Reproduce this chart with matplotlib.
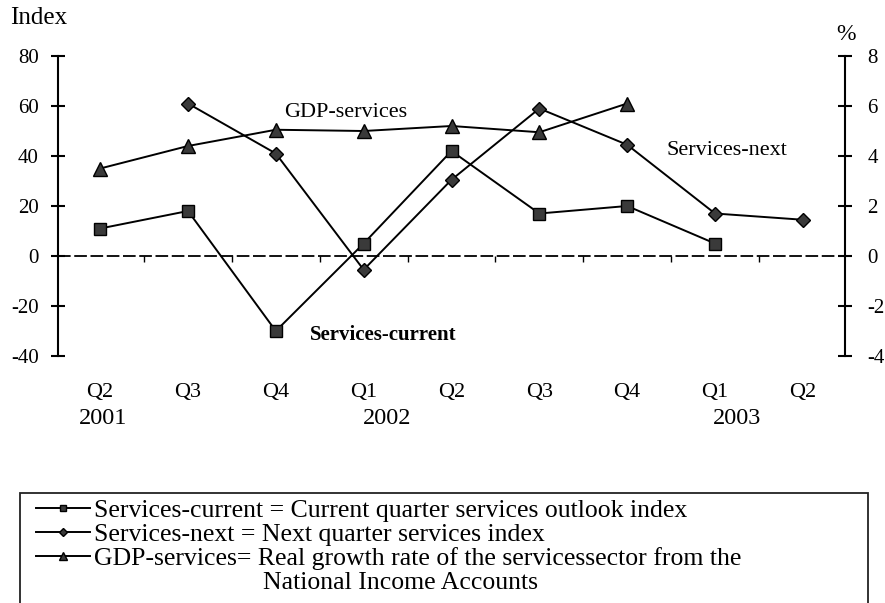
import matplotlib
matplotlib.use("Agg")
import matplotlib.pyplot as plt
import matplotlib.transforms as mtransforms
from matplotlib.lines import Line2D
from matplotlib.patches import Rectangle
import numpy as np

plt.rcParams['font.family'] = ['Liberation Serif', 'DejaVu Serif']
plt.rcParams['axes.unicode_minus'] = False

# quarters Q2 2001 .. Q2 2003
quarters = ['Q2', 'Q3', 'Q4', 'Q1', 'Q2', 'Q3', 'Q4', 'Q1', 'Q2']
years = ['2001', '2002', '2003']
year_pos = [0.03, 3.27, 7.25]

# index values (left axis), None = no observation
services_current = [11, 18, -30, 5, 42, 17, 20, 5, None]
services_next = [None, 61, 41, -5.5, 30.5, 59, 44.5, 17, 14.5]
# % growth (right axis)
gdp_services = [3.5, 4.4, 5.05, 5.0, 5.2, 4.95, 6.1, None, None]

x = np.arange(len(quarters))


def to_arr(vals):
    return np.array([np.nan if v is None else v for v in vals], dtype=float)


fig = plt.figure(figsize=(8.85, 6.03), dpi=100)
ax = fig.add_axes([58 / 885, 1 - 356 / 603, (845 - 58) / 885, 300 / 603])
ax2 = ax.twinx()

mk = dict(color='black', lw=1.4, markeredgecolor='black', markerfacecolor='#3a3a3a')
ax.plot(x, to_arr(services_current), marker='s', ms=8.5, **mk)
ax.plot(x, to_arr(services_next), marker='D', ms=7, **mk)
ax2.plot(x, to_arr(gdp_services), marker='^', ms=10, **mk)

ax.set_ylim(-40, 80)
ax2.set_ylim(-4, 8)
ax.set_xlim(-0.48, 8.48)
ax.set_yticks(np.arange(-40, 81, 20))
ax2.set_yticks(np.arange(-4, 9, 2))

# x axis drawn as dashed line at zero with small ticks between quarters
for a in (ax, ax2):
    a.spines['top'].set_visible(False)
    a.spines['bottom'].set_visible(False)
    a.spines['left'].set_visible(a is ax)
    a.spines['right'].set_visible(a is ax2)
ax.spines['left'].set_linewidth(1.5)
ax2.spines['right'].set_linewidth(1.5)
ax.axhline(0, color='black', lw=1.3, ls=(0, (7, 2)))
ax.set_xticks([])
minor = np.arange(0.5, 8, 1)
ax.plot(minor, np.zeros_like(minor), ls='none', marker=3, ms=4, color='black', mew=1)

ax.tick_params(axis='y', direction='inout', length=10, width=1.5, labelsize=15, pad=9)
ax2.tick_params(axis='y', direction='inout', length=10, width=1.5, labelsize=15, pad=11)

sec = ax.secondary_xaxis(-0.085)
sec.set_xticks(x, quarters)
sec.spines['bottom'].set_visible(False)
sec.tick_params(length=0, labelsize=16, pad=1)

trans = mtransforms.blended_transform_factory(ax.transData, ax.transAxes)
for yr, xp in zip(years, year_pos):
    ax.text(xp, -0.207, yr, transform=trans, ha='center', va='center', fontsize=17.5)

ax.text(2.10, 57.5, 'GDP-services', fontsize=16, va='center', ha='left')
ax.text(2.39, -31.5, 'Services-current', fontsize=15, fontweight='bold',
        va='center', ha='left')
ax.text(6.45, 42.2, 'Services-next', fontsize=16, va='center', ha='left')

fig.text(10 / 885, 1 - 18 / 603, 'Index', fontsize=18, va='center', ha='left')
fig.text(836 / 885, 1 - 34 / 603, '%', fontsize=17, va='center', ha='left')

# legend box (runs off the bottom of the image, as in the source)
fig.patches.append(Rectangle((20 / 885, -0.05), 848 / 885, 0.05 + 110 / 603,
                             transform=fig.transFigure, fill=False,
                             edgecolor='#222222', lw=1.3))

h1 = Line2D([], [], color='black', lw=1.4, marker='s', ms=4.5, markerfacecolor='#3a3a3a')
h2 = Line2D([], [], color='black', lw=1.4, marker='D', ms=4, markerfacecolor='#3a3a3a')
h3 = Line2D([], [], color='black', lw=1.4, marker='^', ms=5.5, markerfacecolor='#3a3a3a')
h4 = Line2D([], [], color='none')
labels = ['Services-current = Current quarter services outlook index',
          'Services-next = Next quarter services index',
          'GDP-services= Real growth rate of the servicessector from the',
          ' ' * 26 + 'National Income Accounts']
fig.legend([h1, h2, h3, h4], labels, loc='upper left',
           bbox_to_anchor=(36 / 885, 1 - 499 / 603),
           fontsize=18.5, frameon=False,
           handlelength=2.1, handletextpad=0.17, labelspacing=0.04,
           borderpad=0, borderaxespad=0)

fig.savefig('out.png', dpi=100)
